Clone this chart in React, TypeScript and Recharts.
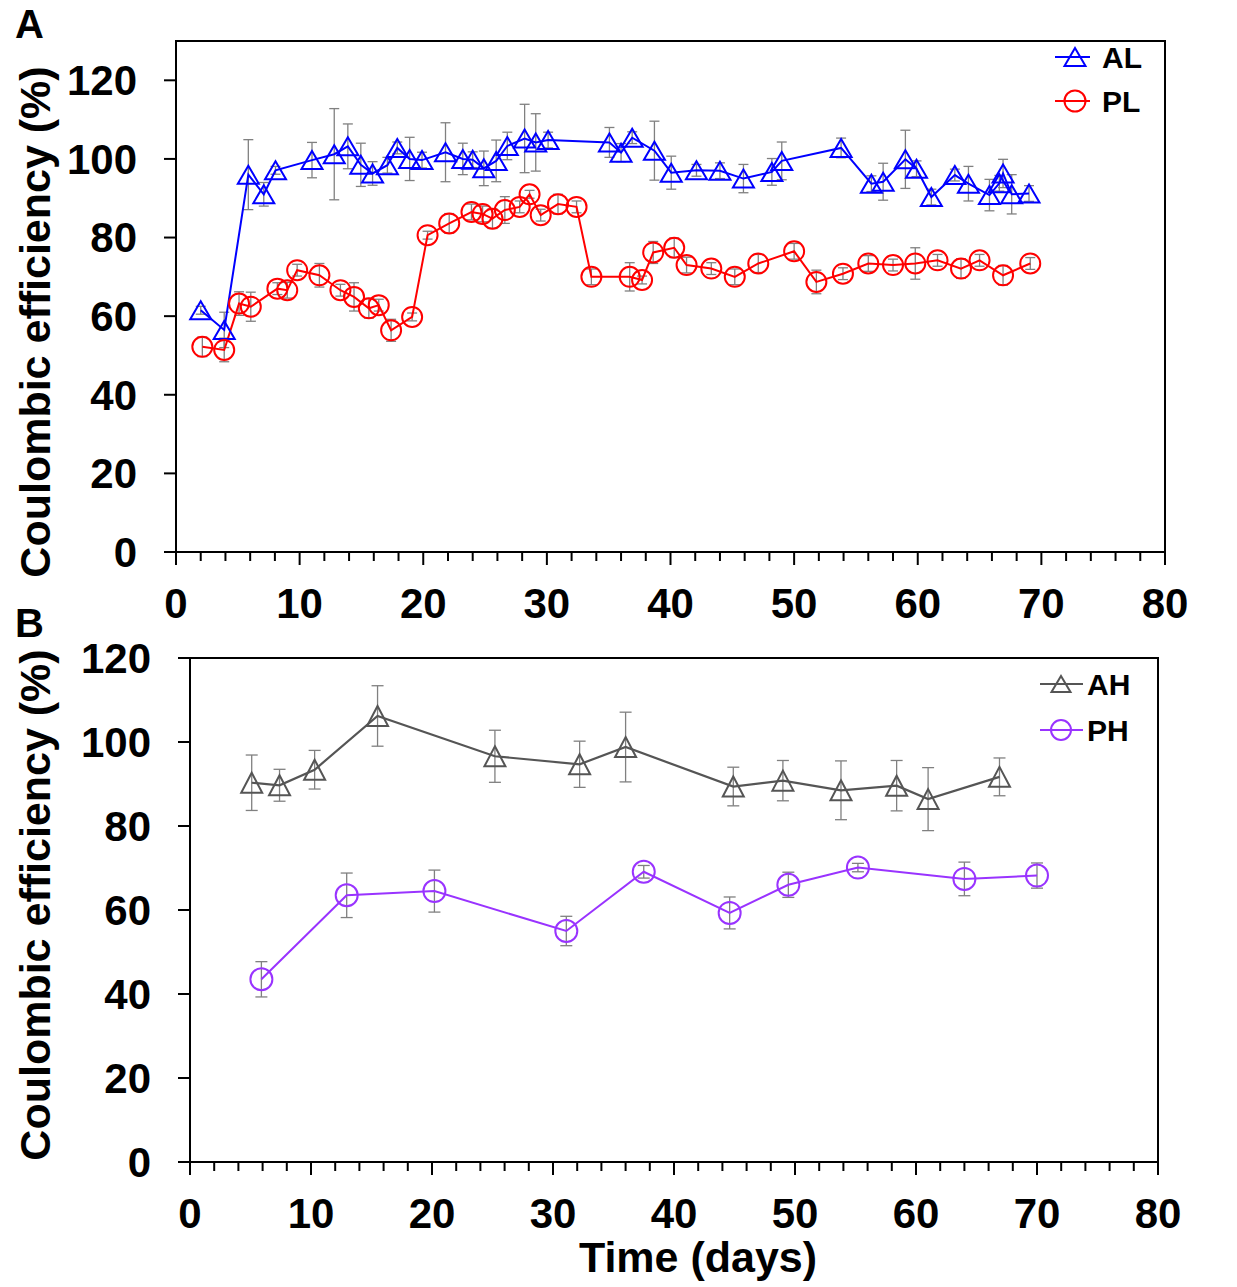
import React from "react";
import {
  ComposedChart,
  Line,
  XAxis,
  YAxis,
  ErrorBar,
  Legend,
  ReferenceArea,
} from "recharts";

const FONT = '"Liberation Sans", Arial, Helvetica, sans-serif';

// ---- Panel A: AL (triangles) ----
const alDays = [
  2.0, 3.9, 5.85, 7.1, 8.05, 11.0, 12.8, 13.9, 14.95, 15.9, 17.1, 17.9, 18.9, 19.9, 21.8, 23.2, 24.0,
  24.9, 25.9, 26.8, 28.2, 29.1, 30.1, 35.06, 36.0, 36.9, 38.7, 40.06, 42.1, 44.0, 45.9, 48.2, 49.0,
  53.8, 56.25, 57.2, 59.0, 59.9, 61.1, 63.0, 64.1, 65.8, 66.6, 66.9, 67.6, 69.0,
];
const alValues = [
  61.5, 56.5, 96.0, 91.0, 97.1, 99.7, 101.2, 103.2, 98.5, 96.3, 98.4, 102.8, 100.0, 99.7, 101.7, 100.0, 99.8,
  97.6, 99.5, 103.3, 105.2, 104.2, 104.8, 104.2, 101.6, 105.4, 102.1, 96.5, 97.1, 97.0, 95.0, 96.7, 99.5,
  102.8, 93.7, 94.2, 99.9, 97.5, 90.3, 95.9, 93.7, 90.8, 93.8, 96.3, 91.0, 91.2,
];
const alErrors = [
  1, 4.5, 8.9, 3, 1, 4.5, 11.6, 5.7, 5.5, 3, 2, 1.5, 5.5, 2, 7.5, 4, 2,
  4.4, 5.3, 3.5, 8.7, 7.3, 2, 3.8, 2.3, 1.5, 7.5, 4.2, 1.5, 2, 3.6, 3.4, 4.8,
  2.5, 2, 4.7, 7.4, 2, 2, 1.5, 4.4, 4, 2, 3.6, 5, 2,
];

// ---- Panel A: PL (circles) ----
const plDays = [
  2.13, 3.9, 5.1, 6.05, 8.2, 9.0, 9.8, 11.6, 13.3, 14.4, 15.6, 16.4, 17.4, 19.1, 20.35, 22.1, 23.9,
  24.8, 25.6, 26.6, 27.8, 28.6, 29.5, 30.9, 32.4, 33.6, 36.7, 37.7, 38.6, 40.3, 41.3, 43.3, 45.2,
  47.1, 50.0, 51.8, 53.95, 56.0, 58.0, 59.8, 61.6, 63.5, 65.0, 66.9, 69.1,
];
const plValues = [
  52.2, 51.4, 63.2, 62.4, 67.0, 66.6, 71.7, 70.4, 66.6, 64.9, 62.0, 62.8, 56.4, 59.8, 80.6, 83.6, 86.5,
  86.0, 84.8, 87.0, 87.8, 91.0, 85.7, 88.5, 87.8, 70.0, 70.0, 69.2, 76.2, 77.4, 73.0, 72.1, 70.0,
  73.4, 76.5, 68.7, 70.8, 73.4, 73.0, 73.4, 74.2, 72.1, 74.2, 70.4, 73.4,
];
const plErrors = [
  2.5, 3, 3, 3.7, 1.5, 2, 1.5, 3, 1.5, 3.6, 2.5, 1.5, 2.8, 1, 1, 2.5, 2,
  2, 2.5, 3.4, 1.5, 1, 1.5, 2.5, 1.5, 2, 3.6, 1, 2.8, 2.5, 2, 1.5, 2,
  2.3, 2, 3, 1.5, 2, 1.5, 4, 1.5, 2.5, 1.5, 2.5, 1.5,
];

// ---- Panel B: AH (triangles) ----
const ahDays = [5.1, 7.4, 10.3, 15.5, 25.2, 32.2, 36.0, 44.9, 49.0, 53.8, 58.4, 61.0, 66.9];
const ahValues = [90.3, 89.7, 93.4, 106.2, 96.6, 94.7, 98.8, 89.4, 90.8, 88.5, 89.6, 86.4, 91.7];
const ahErrors = [6.6, 3.8, 4.6, 7.2, 6.2, 5.5, 8.3, 4.6, 4.8, 7.0, 6.0, 7.5, 4.5];

// ---- Panel B: PH (circles) ----
const phDays = [5.9, 12.95, 20.2, 31.1, 37.5, 44.6, 49.45, 55.2, 64.0, 70.0];
const phValues = [43.5, 63.5, 64.5, 55.0, 69.1, 59.3, 66.0, 70.1, 67.4, 68.2];
const phErrors = [4.2, 5.3, 5.0, 3.5, 1.5, 3.8, 3.0, 1.0, 4.0, 3.0];

// axis ticks
const yTicks = [0, 20, 40, 60, 80, 100, 120];
const xTicks = [
  0, 2, 4, 6, 8, 10, 12, 14, 16, 18, 20, 22, 24, 26, 28, 30, 32, 34, 36, 38, 40,
  42, 44, 46, 48, 50, 52, 54, 56, 58, 60, 62, 64, 66, 68, 70, 72, 74, 76, 78, 80,
];
const xLabelTicks = [0, 10, 20, 30, 40, 50, 60, 70, 80];

const toRows = (days: number[], values: number[], errors: number[]) =>
  days.map((day, i) => ({ day, value: values[i], err: errors[i] }));

const alData = toRows(alDays, alValues, alErrors);
const plData = toRows(plDays, plValues, plErrors);
const ahData = toRows(ahDays, ahValues, ahErrors);
const phData = toRows(phDays, phValues, phErrors);

const COLORS = { AL: "#0000ff", PL: "#ff0000", AH: "#555555", PH: "#9933ff" };
const ERR = "#808080";

function triPath(cx: number, cy: number, w: number, h: number) {
  return `M${cx},${cy - h / 2} L${cx + w / 2},${cy + h / 2} L${cx - w / 2},${cy + h / 2} Z`;
}

const triangleDot = (color: string, w: number, h: number) => (p: any) => {
  if (p.cx == null || p.cy == null) return <g key={p.index} />;
  return <path key={p.index} d={triPath(p.cx, p.cy, w, h)} fill="none" stroke={color} strokeWidth={2} />;
};

const circleDot = (color: string, r: number) => (p: any) => {
  if (p.cx == null || p.cy == null) return <g key={p.index} />;
  return <circle key={p.index} cx={p.cx} cy={p.cy} r={r} fill="none" stroke={color} strokeWidth={2} />;
};

const XTick = ({ x, y, payload }: any) => {
  const major = xLabelTicks.includes(payload.value);
  return (
    <g>
      <line x1={x} x2={x} y1={y} y2={y + (major ? 13 : 9)} stroke="#000" strokeWidth={2} />
      {major && (
        <text
          x={x}
          y={y + 51}
          textAnchor="middle"
          dominantBaseline="central"
          fontSize={42}
          fontWeight="bold"
          fontFamily={FONT}
          fill="#000"
        >
          {payload.value}
        </text>
      )}
    </g>
  );
};

const titleProps = { fontSize: 43, fontWeight: "bold", fontFamily: FONT, fill: "#000" } as const;

const yLabel = (letter: string, letterY: number, titleY: number) => () => (
  <g>
    <text x={15} y={letterY} fontSize={40} fontWeight="bold" fontFamily={FONT} fill="#000">
      {letter}
    </text>
    <text transform={`translate(50, ${titleY}) rotate(-90)`} textAnchor="middle" {...titleProps}>
      Coulombic efficiency (%)
    </text>
  </g>
);

type LegendItem = { name: string; color: string; shape: "tri" | "circle"; y: number };

const legendContent =
  (items: LegendItem[], x1: number, x2: number, mx: number, tx: number, tw: number, th: number, r: number) =>
  () => (
    <svg width={160} height={100} style={{ overflow: "visible" }}>
      {items.map((it) => (
        <g key={it.name}>
          <line x1={x1} x2={x2} y1={it.y} y2={it.y} stroke={it.color} strokeWidth={2} />
          {it.shape === "tri" ? (
            <path d={triPath(mx, it.y, tw, th)} fill="none" stroke={it.color} strokeWidth={2} />
          ) : (
            <circle cx={mx} cy={it.y} r={r} fill="none" stroke={it.color} strokeWidth={2} />
          )}
          <text
            x={tx}
            y={it.y}
            dominantBaseline="central"
            fontSize={30}
            fontWeight="bold"
            fontFamily={FONT}
            fill="#000"
          >
            {it.name}
          </text>
        </g>
      ))}
    </svg>
  );

const yTickStyle = { fontSize: 42, fontWeight: "bold", fill: "#000", fontFamily: FONT };

function PanelA() {
  return (
    <ComposedChart width={1237} height={640} margin={{ top: 41, right: 72, bottom: 0, left: 0 }}>
      <XAxis
        type="number"
        dataKey="day"
        domain={[0, 80]}
        ticks={xTicks}
        interval={0}
        height={88}
        tickSize={0}
        tickMargin={0}
        tickLine={false}
        tick={<XTick />}
        axisLine={{ stroke: "#000", strokeWidth: 2 }}
        allowDataOverflow
      />
      <YAxis
        type="number"
        domain={[0, 130]}
        ticks={yTicks}
        interval={0}
        width={176}
        tickSize={12}
        tickMargin={27}
        tick={yTickStyle}
        tickLine={{ stroke: "#000", strokeWidth: 2 }}
        axisLine={{ stroke: "#000", strokeWidth: 2 }}
        label={yLabel("A", 38, 322)}
        allowDataOverflow
      />
      <ReferenceArea x1={0} x2={80} y1={0} y2={130} fill="none" fillOpacity={0} stroke="#000" strokeWidth={2} ifOverflow="visible" />
      <Line
        data={alData}
        dataKey="value"
        name="AL"
        type="linear"
        stroke={COLORS.AL}
        strokeWidth={2}
        dot={triangleDot(COLORS.AL, 21, 18)}
        activeDot={false}
        isAnimationActive={false}
      >
        <ErrorBar dataKey="err" direction="y" width={5} stroke={ERR} strokeWidth={1.3} />
      </Line>
      <Line
        data={plData}
        dataKey="value"
        name="PL"
        type="linear"
        stroke={COLORS.PL}
        strokeWidth={2}
        dot={circleDot(COLORS.PL, 10)}
        activeDot={false}
        isAnimationActive={false}
      >
        <ErrorBar dataKey="err" direction="y" width={5} stroke={ERR} strokeWidth={1.3} />
      </Line>
      <Legend
        layout="vertical"
        align="center"
        verticalAlign="middle"
        wrapperStyle={{ left: 1040, top: 30, width: 160, height: 100 }}
        content={legendContent(
          [
            { name: "AL", color: COLORS.AL, shape: "tri", y: 27 },
            { name: "PL", color: COLORS.PL, shape: "circle", y: 71 },
          ],
          15,
          50,
          35,
          62,
          21,
          18,
          10.5
        )}
      />
    </ComposedChart>
  );
}

function PanelB() {
  return (
    <ComposedChart width={1237} height={687} margin={{ top: 58, right: 79, bottom: 0, left: 0 }}>
      <XAxis
        type="number"
        dataKey="day"
        domain={[0, 80]}
        ticks={xTicks}
        interval={0}
        height={125}
        tickSize={0}
        tickMargin={0}
        tickLine={false}
        tick={<XTick />}
        axisLine={{ stroke: "#000", strokeWidth: 2 }}
        label={() => (
          <text x={698} y={672} textAnchor="middle" {...titleProps}>
            Time (days)
          </text>
        )}
        allowDataOverflow
      />
      <YAxis
        type="number"
        domain={[0, 120]}
        ticks={yTicks}
        interval={0}
        width={190}
        tickSize={12}
        tickMargin={27}
        tick={yTickStyle}
        tickLine={{ stroke: "#000", strokeWidth: 2 }}
        axisLine={{ stroke: "#000", strokeWidth: 2 }}
        label={yLabel("B", 37, 305)}
        allowDataOverflow
      />
      <ReferenceArea x1={0} x2={80} y1={0} y2={120} fill="none" fillOpacity={0} stroke="#000" strokeWidth={2} ifOverflow="visible" />
      <Line
        data={ahData}
        dataKey="value"
        name="AH"
        type="linear"
        stroke={COLORS.AH}
        strokeWidth={2.2}
        dot={triangleDot(COLORS.AH, 21, 20)}
        activeDot={false}
        isAnimationActive={false}
      >
        <ErrorBar dataKey="err" direction="y" width={6} stroke={ERR} strokeWidth={1.3} />
      </Line>
      <Line
        data={phData}
        dataKey="value"
        name="PH"
        type="linear"
        stroke={COLORS.PH}
        strokeWidth={2}
        dot={circleDot(COLORS.PH, 11)}
        activeDot={false}
        isAnimationActive={false}
      >
        <ErrorBar dataKey="err" direction="y" width={6} stroke={ERR} strokeWidth={1.3} />
      </Line>
      <Legend
        layout="vertical"
        align="center"
        verticalAlign="middle"
        wrapperStyle={{ left: 1030, top: 60, width: 160, height: 100 }}
        content={legendContent(
          [
            { name: "AH", color: COLORS.AH, shape: "tri", y: 24 },
            { name: "PH", color: COLORS.PH, shape: "circle", y: 70 },
          ],
          10,
          53,
          31,
          57,
          19,
          16,
          10
        )}
      />
    </ComposedChart>
  );
}

export default function App() {
  return (
    <div style={{ position: "absolute", left: 0, top: 0, width: 1237, height: 1287, background: "#fff" }}>
      <div style={{ position: "absolute", left: 0, top: 0 }}>
        <PanelA />
      </div>
      <div style={{ position: "absolute", left: 0, top: 600 }}>
        <PanelB />
      </div>
    </div>
  );
}
